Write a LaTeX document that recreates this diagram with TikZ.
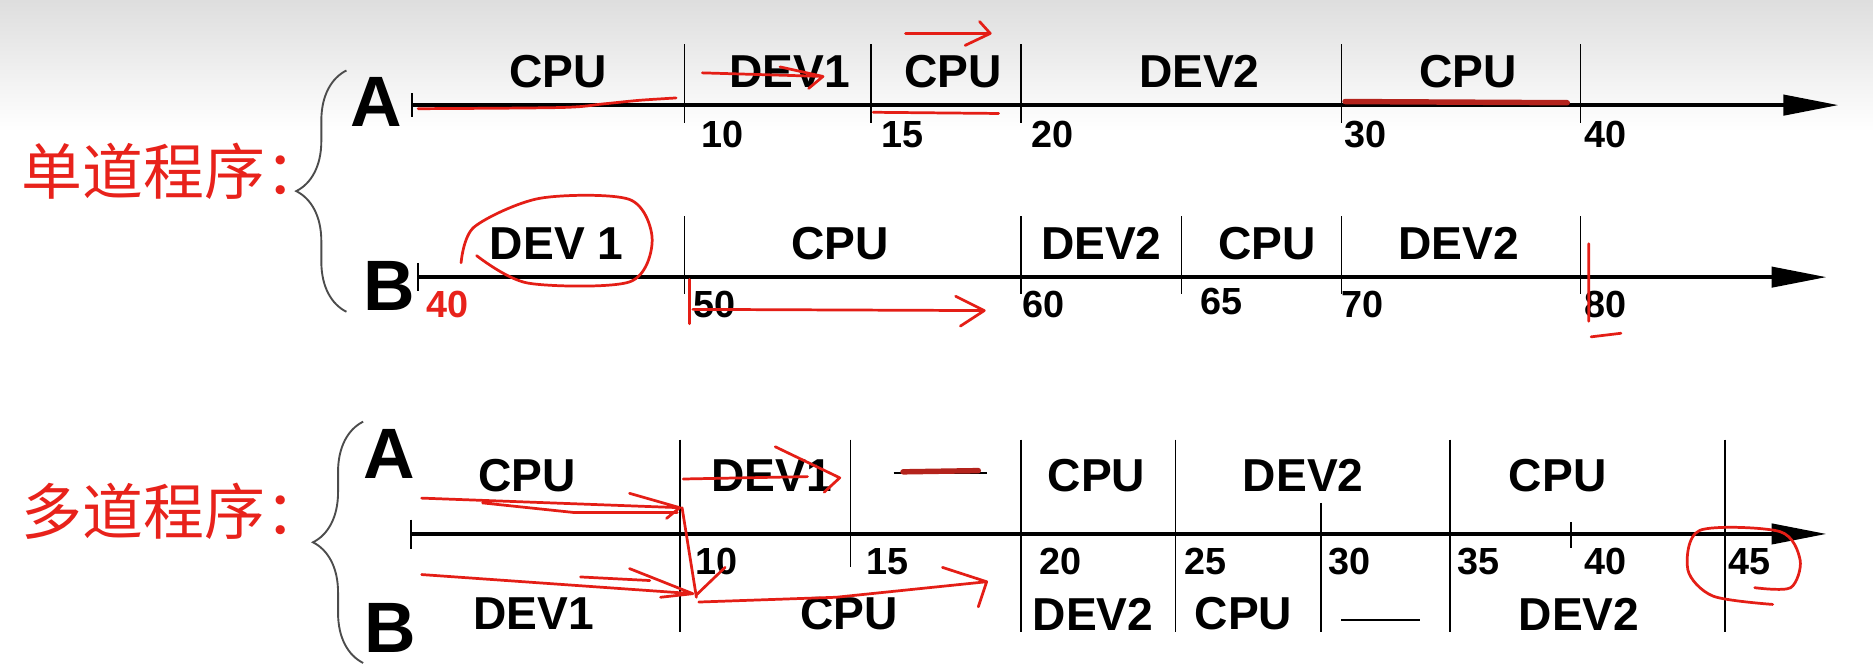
\documentclass[tikz,border=0pt]{standalone}
\usepackage{fontspec}
\setmainfont{Liberation Sans}
\newfontfamily\cjk{Noto Sans CJK SC}
\usepackage{tikz}
\usetikzlibrary{arrows.meta,decorations.pathreplacing}
\definecolor{slidered}{HTML}{E8221B}
\definecolor{inkred}{HTML}{E41E16}
\definecolor{darkink}{HTML}{B4231C}

\begin{document}
\begin{tikzpicture}[
    x=0.02cm, y=-0.02cm,
    lab/.style={font=\fontsize{22}{24}\selectfont\bfseries, inner sep=0pt},
    num/.style={font=\fontsize{18}{20}\selectfont\bfseries, anchor=west, inner sep=0pt},
    prog/.style={font=\fontsize{34}{36}\selectfont\bfseries, inner sep=0pt},
    title/.style={font=\cjk\fontsize{29}{32}\selectfont, text=slidered, anchor=west, inner sep=0pt},
    axis/.style={line width=1.6pt, -{Triangle[length=9.2mm,width=3.4mm]}},
    divider/.style={line width=0.8pt},
    grp/.style={decorate, decoration={brace, amplitude=8.4mm}, line width=0.9pt, draw=black!70},
    ink/.style={draw=inkred, line width=1.3pt, line cap=round, line join=round},
    blot/.style={draw=darkink, line width=2.6pt, line cap=round}
]
\useasboundingbox (0,0) rectangle (1568,560);
\fill[white] (0,0) rectangle (1568,560);
\shade[top color=black!13, bottom color=white] (0,0) rectangle (1568,110);

% ---------- single program ----------
\node[title] (single) at (18,143) {单道程序：};
\draw[grp] (290,261) -- (290,59);

% A
\node[prog] (sA) at (315,85) {A};
\coordinate (sA0) at (345,88);
\coordinate (sA1) at (1539,88);
\draw[divider] (345,78) -- (345,98);
\draw[axis] (sA0) -- (sA1);
\foreach \x in {573,729,855,1123,1323}
  \draw[divider] (\x,37) -- (\x,103);
\foreach \x/\t [count=\i] in {467/CPU, 661/DEV1, 798/CPU, 1004/DEV2, 1229/CPU}
  \node[lab] (sA-\i) at (\x,60) {\t};
\foreach \x/\t in {587/10, 738/15, 863/20, 1125/30, 1326/40}
  \node[num] (sA-n\t) at (\x,113) {\t};

% B
\node[prog] (sB) at (326,239) {B};
\coordinate (sB0) at (350,232);
\coordinate (sB1) at (1529,232);
\draw[divider] (350,220) -- (350,244);
\draw[axis] (sB0) -- (sB1);
\foreach \x in {573,855,989,1123,1323}
  \draw[divider] (\x,181) -- (\x,246);
\foreach \x/\t [count=\i] in {466/DEV 1, 703/CPU, 922/DEV2, 1061/CPU, 1221/DEV2}
  \node[lab] (sB-\i) at (\x,204) {\t};
\node[num, text=slidered] (sB-n40) at (357,255) {40};
\foreach \x/\t in {580/50, 856/60, 1123/70, 1326/80}
  \node[num] (sB-n\t) at (\x,255) {\t};
\node[num] (sB-n65) at (1005,252) {65};

% ---------- multi program ----------
\node[title] (multi) at (18,428) {多道程序：};
\draw[grp] (304,555) -- (304,353);
\node[prog] (mA) at (326,380) {A};
\node[prog] (mB) at (327,526) {B};
\coordinate (m0) at (344,447);
\coordinate (m1) at (1529,447);
\draw[divider] (344,435) -- (344,460);
\draw[axis] (m0) -- (m1);
\foreach \x in {569,855,984,1214,1444}
  \draw[divider] (\x,368) -- (\x,529);
\draw[divider] (712,368) -- (712,475);
\draw[divider] (1106,421) -- (1106,529);
\draw[divider] (1315,437) -- (1315,459);
\foreach \x/\t [count=\i] in {441/CPU, 646/DEV1, 918/CPU, 1091/DEV2, 1304/CPU}
  \node[lab] (mA-\i) at (\x,398) {\t};
\draw[line width=0.9pt] (748,396) -- (826,396);
\foreach \x/\t [count=\i] in {447/DEV1, 711/CPU, 915/DEV2, 1041/CPU, 1322/DEV2}
  \node[lab] (mB-\i) at (\x,514) {\t};
\draw[line width=0.9pt] (1123,519) -- (1189,519);
\foreach \x/\t in {582/10, 725/15, 870/20, 991/25, 1112/30, 1220/35, 1326/40, 1447/45}
  \node[num] (m-n\t) at (\x,470) {\t};

% ---------- red pen marks ----------
\draw[ink] plot[smooth] coordinates {(350,91) (470,90) (505,87) (535,84) (566,82)};
\draw[ink] (588,61) -- (689,64) (653,56) -- (689,64) -- (677,74);
\draw[ink] (758,28) -- (829,28) (820,18) -- (829,28) -- (808,38);
\draw[ink] (731,94) -- (836,95);
\draw[blot] (1126,85) -- (1312,86);
\draw[ink] plot[smooth] coordinates {(399,214) (442,237) (527,236) (546,201) (527,167) (452,166) (397,190) (386,220)};
\draw[ink] (577,234) -- (577,271);
\draw[ink] (580,259) -- (824,260) (800,248) -- (824,260) -- (804,273);
\draw[ink] (1330,204) -- (1330,269) (1332,282) -- (1357,279);
\draw[ink] (353,417) -- (569,425) (404,421) -- (480,429) -- (567,429)
  (527,413) -- (569,425) -- (558,434);
\draw[ink] (571,425) -- (583,500);
\draw[ink] (353,481) -- (580,497) (486,483) -- (544,486) (527,476) -- (580,497) -- (553,500);
\draw[ink] (583,498) -- (607,475);
\draw[ink] (585,504) -- (700,500) -- (826,487) (789,475) -- (826,487) -- (819,508);
\draw[ink] (572,401) -- (676,399) (649,374) -- (703,400) -- (690,412);
\draw[blot] (756,395) -- (819,394);
\draw[ink] plot[smooth] coordinates {(1469,492) (1499,492) (1507,469) (1490,445) (1423,444) (1413,477) (1434,499) (1484,506)};

\end{tikzpicture}
\end{document}
